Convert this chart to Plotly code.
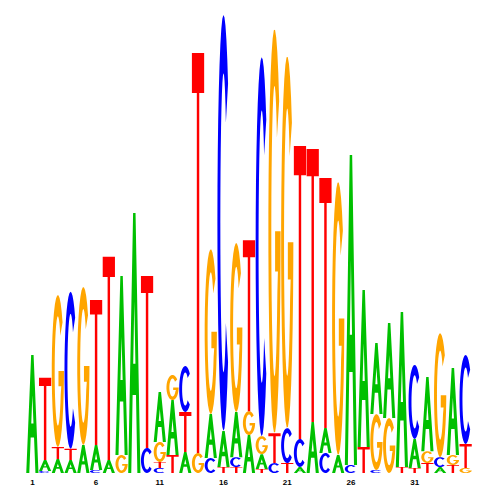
import math
import plotly.graph_objects as go

# Information content (bits) per letter at each of 35 positions
positions = list(range(1, 36))
A = [0.513, 0.048, 0.061, 0.057, 0.122, 0.109, 0.057, 0.778, 1.130, 0, 0.217, 0.239, 0.091, 0, 0.191, 0.157, 0.196, 0.165, 0.065, 0, 0, 0.026, 0.222, 0.109, 0.078, 1.348, 0.683, 0.309, 0.413, 0.674, 0.126, 0.322, 0.026, 0.378, 0]
C = [0, 0.009, 0, 0.683, 0, 0.013, 0, 0, 0, 0.109, 0.022, 0, 0.200, 0, 0.065, 1.809, 0.043, 0, 1.648, 0.043, 0.152, 0.122, 0, 0.087, 0, 0.035, 0, 0.013, 0, 0, 0.322, 0, 0.043, 0, 0.387]
G = [0, 0, 0.661, 0, 0.687, 0, 0, 0.078, 0, 0, 0.087, 0.109, 0, 0.087, 0.717, 0, 0.735, 0.104, 0.078, 1.757, 1.617, 0, 0, 0, 1.187, 0, 0, 0.243, 0.239, 0, 0, 0.052, 0.539, 0.043, 0.022]
T = [0, 0.357, 0.052, 0.048, 0, 0.630, 0.883, 0, 0, 0.748, 0.026, 0.078, 0.174, 1.739, 0, 0.026, 0.026, 0.743, 0.017, 0.130, 0.043, 1.274, 1.187, 1.087, 0, 0, 0.113, 0, 0, 0.026, 0.022, 0.043, 0, 0.035, 0.104]
# stacking order, bottom to top
stack_order = ["A", "CAT", "ATG", "ATC", "AG", "CAT", "AT", "GA", "A", "CT", "CTGA", "TAG", "ATC", "GT", "CAG",
               "TAC", "TCAG", "AGT", "TAGC", "CTG", "TCG", "ACT", "AT", "CAT", "AG", "CA", "TA", "CGA", "GA", "TA",
               "TAC", "TGA", "ACG", "TGA", "GTC"]
tick_vals = [1, 6, 11, 16, 21, 26, 31]
tick_text = ["1", "6", "11", "16", "21", "26", "31"]

heights = {"A": A, "C": C, "G": G, "T": T}
colors = {"A": "#00C000", "C": "#0000FF", "G": "#FFA500", "T": "#FF0000"}


def arc(cx, cy, rx, ry, a0, a1, n=28):
    pts = []
    for i in range(n + 1):
        a = math.radians(a0 + (a1 - a0) * i / n)
        pts.append((cx + rx * math.cos(a), cy + ry * math.sin(a)))
    return pts


def glyph(letter):
    """Return list of polygons in unit box coords."""
    if letter == "A":
        outer = [(0, 0), (0.4, 1), (0.6, 1), (1, 0), (0.75, 0), (0.6375, 0.30), (0.3625, 0.30), (0.25, 0)]
        hole = [(0.41, 0.42), (0.5, 0.66), (0.59, 0.42)]
        return [outer, hole]
    if letter == "T":
        return [[(0, 1), (1, 1), (1, 0.9), (0.6, 0.9), (0.6, 0), (0.4, 0), (0.4, 0.9), (0, 0.9)]]
    if letter == "C":
        o = arc(0.5, 0.5, 0.5, 0.5, 42, 318)
        i = arc(0.5, 0.5, 0.26, 0.36, 318, 42)
        return [o + i]
    if letter == "G":
        o = arc(0.5, 0.5, 0.5, 0.5, 40, 355)
        i = arc(0.5, 0.5, 0.26, 0.36, 335, 40)
        pts = o + [(1.0, 0.5), (0.55, 0.5), (0.55, 0.40), (0.78, 0.40)] + i
        return [pts]
    return []


shapes = []
width = 0.96
for idx, pos in enumerate(positions):
    base = 0.0
    for letter in stack_order[idx]:
        h = heights[letter][idx]
        if h <= 0:
            continue
        x0 = pos - width / 2
        path = ""
        for poly in glyph(letter):
            pts = [(x0 + px * width, base + py * h) for px, py in poly]
            path += "M" + " L".join(f"{x:.4f},{y:.5f}" for x, y in pts) + " Z "
        shapes.append(dict(type="path", xref="x", yref="y", path=path.strip(),
                           fillcolor=colors[letter], line=dict(width=0), fillrule="evenodd",
                           layer="above"))
        base += h

fig = go.Figure()
fig.add_trace(go.Scatter(x=[positions[0], positions[-1]], y=[0, 0], mode="markers",
                         marker=dict(opacity=0), hoverinfo="skip", showlegend=False))
fig.update_layout(
    width=500, height=500,
    margin=dict(l=17.6, r=35.6, t=5, b=35),
    paper_bgcolor="white", plot_bgcolor="white",
    shapes=shapes,
    showlegend=False,
)
fig.update_xaxes(range=[0.5, 35.5], tickvals=tick_vals, ticktext=tick_text, showgrid=False,
                 zeroline=False, showline=False, ticks="", ticklabelstandoff=3,
                 tickfont=dict(family="Liberation Sans", size=8, color="black", weight="bold"))
fig.update_yaxes(range=[0, 2.0], visible=False, showgrid=False, zeroline=False)
fig.write_html("out.html")
